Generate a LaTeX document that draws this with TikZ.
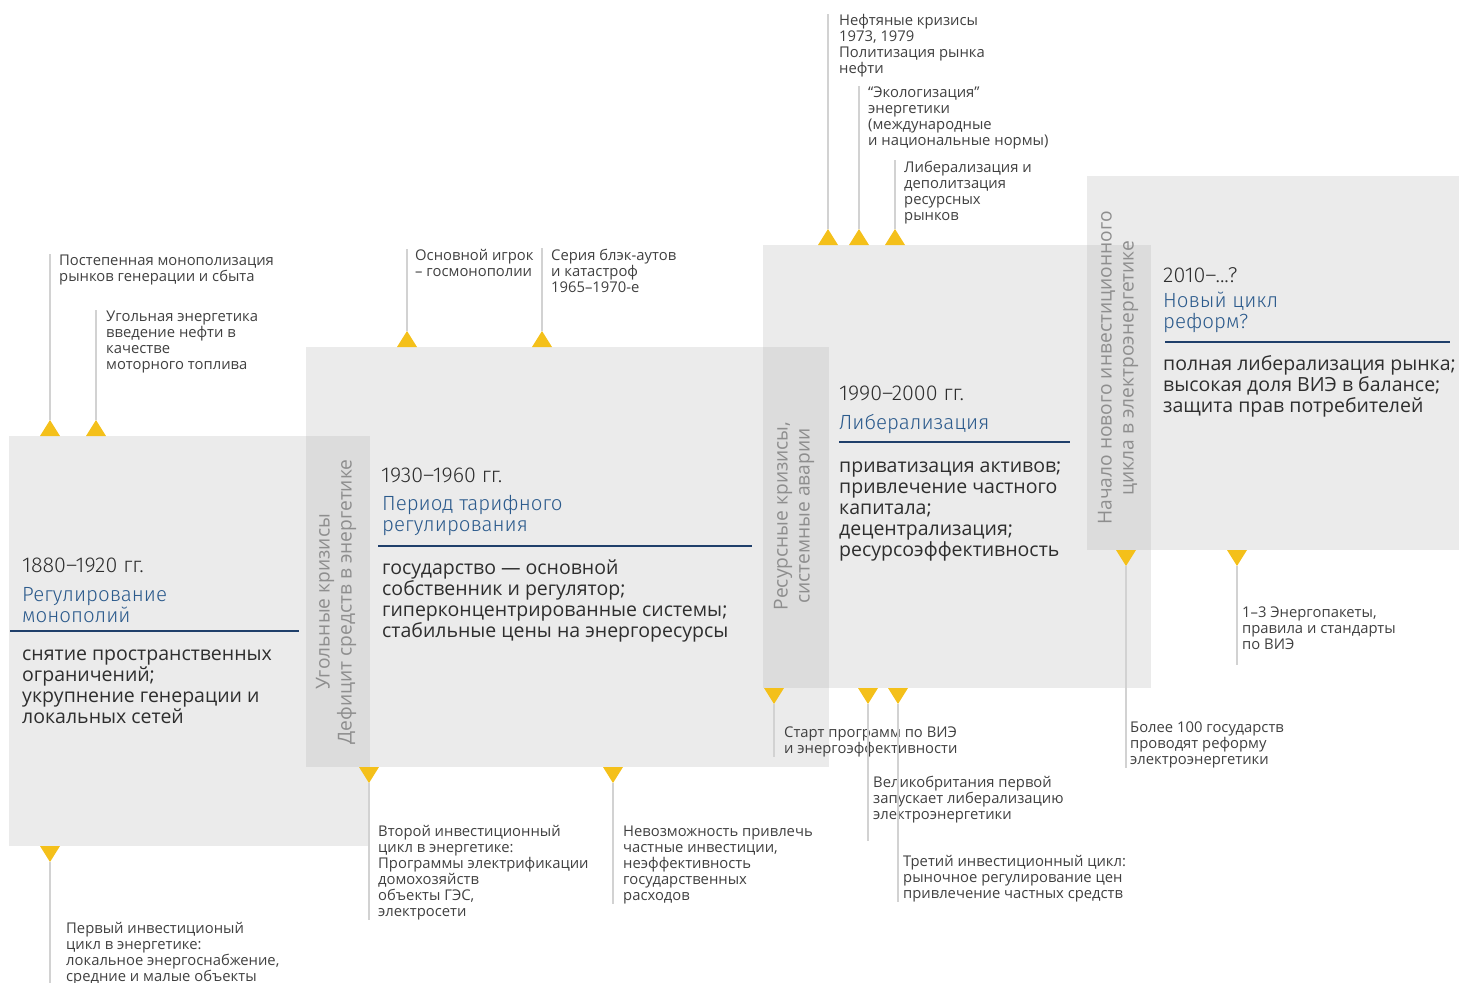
\documentclass[tikz,border=0pt]{standalone}
\usepackage{fontspec}
\setmainfont{Open Sans}
\newfontfamily\headfont{Fira Sans Light}
\definecolor{boxgray}{HTML}{EBEBEB}
\definecolor{overgray}{HTML}{DCDCDC}
\definecolor{markyellow}{HTML}{F4C01A}
\definecolor{titleblue}{HTML}{2B5A8C}
\definecolor{ruleblue}{HTML}{1F3F6A}
\definecolor{leadgray}{HTML}{D2D2D2}
\definecolor{notegray}{HTML}{404040}
\definecolor{bodygray}{HTML}{2E2E2E}
\definecolor{sidegray}{HTML}{8E8E8E}
\tikzset{
  period/.style={fill=boxgray, inner sep=0pt, outer sep=0pt, anchor=north west},
  overlap/.style={fill=overgray},
  marker/.style={fill=markyellow},
  lead/.style={draw=leadgray, line width=1.1pt},
  % base anchors of several-line nodes sit on the last line
  note/.style={anchor=base west, inner sep=0pt, align=left, text=notegray,
    font=\fontsize{14.8}{16}\selectfont},
  years/.style={anchor=base west, inner sep=0pt, text=bodygray,
    font=\headfont\fontsize{21.5}{24}\selectfont},
  ptitle/.style={anchor=base west, inner sep=0pt, align=left, text=titleblue,
    font=\headfont\fontsize{20.5}{21}\selectfont},
  pbody/.style={anchor=base west, inner sep=0pt, align=left, text=bodygray,
    font=\fontsize{19.5}{21}\selectfont},
  prule/.style={draw=ruleblue, line width=1.6pt},
  side/.style={rotate=90, inner sep=0pt, align=center, text=sidegray,
    font=\fontsize{19.2}{22}\selectfont}
}
\begin{document}
\begin{tikzpicture}[x=1pt, y=-1pt]
\useasboundingbox (0,0) rectangle (1460,983);

% periods
\node[period, minimum width=361pt, minimum height=410pt] (p1) at (9,436) {};
\node[period, minimum width=523pt, minimum height=420pt] (p2) at (306,347) {};
\node[period, minimum width=388pt, minimum height=443pt] (p3) at (763,245) {};
\node[period, minimum width=372pt, minimum height=374pt] (p4) at (1087,176) {};
\fill[overlap] (p2.west |- p1.north) rectangle (p1.east |- p2.south);
\fill[overlap] (p3.west |- p2.north) rectangle (p2.east |- p3.south);
\fill[overlap] (p4.west |- p3.north) rectangle (p3.east |- p4.south);

% crises between periods
\node[side] (s1) at (336,602) {Угольные кризисы\\Дефицит средств в энергетике};
\node[side] (s2) at (794,516) {Ресурсные кризисы,\\системные аварии};
\node[side] (s3) at (1118,368) {Начало нового инвестиционного\\цикла в электроэнергетике};

% 1880-1920
\node[years] (y1) at (22,572) {1880–1920 гг.};
\node[ptitle] (t1) at (22,622) {Регулирование\\монополий};
\draw[prule] (10,631) -- (299,631);
\node[pbody] (b1) at (22,723) {снятие пространственных\\ограничений;\\укрупнение генерации и\\локальных сетей};

% 1930-1960
\node[years] (y2) at (381,482) {1930–1960 гг.};
\node[ptitle] (t2) at (382,531) {Период тарифного\\регулирования};
\draw[prule] (378,546) -- (752,546);
\node[pbody] (b2) at (382,637) {государство — основной\\собственник и регулятор;\\гиперконцентрированные системы;\\стабильные цены на энергоресурсы};

% 1990-2000
\node[years] (y3) at (839,400) {1990–2000 гг.};
\node[ptitle] (t3) at (839,429) {Либерализация};
\draw[prule] (839,442) -- (1070,442);
\node[pbody] (b3) at (839,556) {приватизация активов;\\привлечение частного\\капитала;\\децентрализация;\\ресурсоэффективность};

% 2010-...
\node[years] (y4) at (1163,282) {2010–...?};
\node[ptitle] (t4) at (1163,328) {Новый цикл\\реформ?};
\draw[prule] (1165,342) -- (1450,342);
\node[pbody] (b4) at (1163,412) {полная либерализация рынка;\\высокая доля ВИЭ в балансе;\\защита прав потребителей};

% events above
\node[note] (n1) at (59,281) {Постепенная монополизация\\рынков генерации и сбыта};
\node[note] (n2) at (106,369) {Угольная энергетика\\введение нефти в\\качестве\\моторного топлива};
\node[note] (n3) at (415,276) {Основной игрок\\– госмонополии};
\node[note] (n4) at (551,292) {Серия блэк-аутов\\и катастроф\\1965–1970-е};
\node[note] (n5) at (839,73) {Нефтяные кризисы\\1973, 1979\\Политизация рынка\\нефти};
\node[note] (n6) at (868,145) {“Экологизация”\\энергетики\\(международные\\и национальные нормы)};
\node[note] (n7) at (904,220) {Либерализация и\\деполитзация\\ресурсных\\рынков};

% events below
\node[note] (n8) at (66,981) {Первый инвестиционый\\цикл в энергетике:\\локальное энергоснабжение,\\средние и малые объекты};
\node[note] (n9) at (378,916) {Второй инвестиционный\\цикл в энергетике:\\Программы электрификации\\домохозяйств\\объекты ГЭС,\\электросети};
\node[note] (n10) at (623,900) {Невозможность привлечь\\частные инвестиции,\\неэффективность\\государственных\\расходов};
\node[note] (n11) at (784,753) {Старт программ по ВИЭ\\и энергоэффективности};
\node[note] (n12) at (873,819) {Великобритания первой\\запускает либерализацию\\электроэнергетики};
\node[note] (n13) at (903,898) {Третий инвестиционный цикл:\\рыночное регулирование цен\\привлечение частных средств};
\node[note] (n14) at (1130,764) {Более 100 государств\\проводят реформу\\электроэнергетики};
\node[note] (n15) at (1242,649) {1–3 Энергопакеты,\\правила и стандарты\\по ВИЭ};

% markers
\foreach \i/\x/\y in {1/50/436, 2/96/436, 3/407/347, 4/542/347, 5/828/245, 6/859/245, 7/895/245} {
  \fill[marker] (\x-10,\y) -- (\x+10,\y) -- (\x,\y-16) -- cycle;
  \coordinate (u\i) at (\x,\y-16);
}
\foreach \i/\x/\y in {8/50/846, 9/369/767, 10/613/767, 11/774/688, 12/868/688, 13/898/688, 14/1126/550, 15/1237/550} {
  \fill[marker] (\x-10,\y) -- (\x+10,\y) -- (\x,\y+16) -- cycle;
  \coordinate (d\i) at (\x,\y+16);
}
\foreach \i in {1,...,7}
  \draw[lead] (u\i) -- (u\i |- n\i.north);
\foreach \i/\e in {8/-4, 9/0, 10/0, 11/0, 12/18, 13/0, 14/0, 15/16}
  \draw[lead] (d\i) -- (d\i |- n\i.south) -- ++(0,\e);
\end{tikzpicture}
\end{document}
